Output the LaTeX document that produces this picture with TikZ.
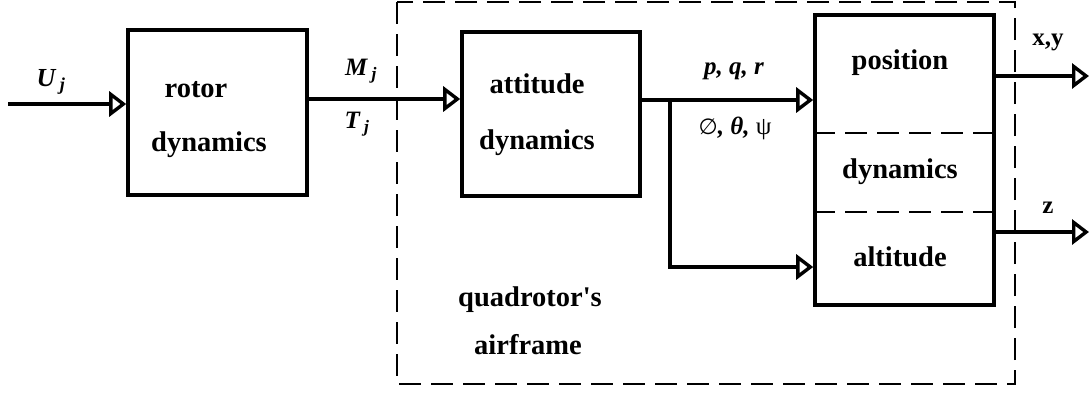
\documentclass[tikz,border=0pt]{standalone}
\usepackage{fontspec}
\setmainfont{Liberation Serif}
\newfontfamily\symf{DejaVu Sans}
\usetikzlibrary{arrows.meta}
\begin{document}
\begin{tikzpicture}[x=1pt,y=-1pt,
  blk/.style={draw, line width=3.6pt, rectangle, inner sep=0pt},
  arr/.style={line width=3.4pt, -{Triangle[open,length=17pt,width=25pt]}},
  frame/.style={line width=2.2pt, dash pattern=on 22pt off 10pt},
  bt/.style={font=\fontsize{28.5}{30}\selectfont\bfseries, inner sep=0pt},
  ml/.style={font=\fontsize{25}{27}\selectfont\bfseries\itshape, inner sep=0pt}]
\useasboundingbox (0,0) rectangle (1091,392);
% frame
\draw[frame] (397,2) rectangle (1015,384);
% blocks
\node[blk, minimum width=179pt, minimum height=165pt] (rotor) at (217.5,112.5) {};
\node[blk, minimum width=178pt, minimum height=164pt] (att) at (551,114) {};
\node[blk, minimum width=179pt, minimum height=290pt] (pos) at (904.5,160) {};
% dividers
\coordinate (d1) at (0,133);
\coordinate (d2) at (0,212);
\draw[frame] (pos.west |- d1) -- (pos.east |- d1);
\draw[frame] (pos.west |- d2) -- (pos.east |- d2);
% block texts
\node[bt] (t1) at (196,90) {rotor};
\node[bt] (t2) at (209,145) {dynamics};
\node[bt] (t3) at (537,84) {attitude};
\node[bt] (t4) at (537,143) {dynamics};
\node[bt] (t5) at (900,63) {position};
\node[bt] (t6) at (900,172) {dynamics};
\node[bt] (t7) at (900,257) {altitude};
\node[bt] (t8) at (530,300) {quadrotor\textquotesingle s};
\node[bt] (t9) at (528,345) {airframe};
% connectors
\coordinate (uin) at (8,104);
\draw[arr] (uin) -- (uin -| rotor.west);
\coordinate (ym) at (0,99);
\draw[arr] (rotor.east |- ym) -- (att.west |- ym);
\coordinate (yp) at (0,100);
\draw[arr] (att.east |- yp) -- (pos.west |- yp);
\coordinate (br) at (670,100);
\coordinate (bc) at (670,267);
\draw[arr] (br) -- (bc) -- (pos.west |- bc);
\coordinate (o1) at (1089,76);
\coordinate (o2) at (1089,232);
\draw[arr] (pos.east |- o1) -- (o1);
\draw[arr] (pos.east |- o2) -- (o2);
% labels
\node[ml, font=\fontsize{26}{28}\selectfont\bfseries\itshape] (lu) at (51,82) {U\,\textsubscript{j}};
\node[ml] (lm) at (361,71) {M\,\textsubscript{j}};
\node[ml] (lt) at (357,124) {T\,\textsubscript{j}};
\node[ml] (lp) at (734,71) {p, q, r};
\node[ml] (la) at (735,128) {{\symf\upshape\mdseries\fontsize{22}{24}\selectfont ∅}, θ, {\upshape\mdseries ψ}};
\node[bt, font=\fontsize{25}{27}\selectfont\bfseries] (lxy) at (1048,42) {x,y};
\node[bt, font=\fontsize{25}{27}\selectfont\bfseries] (lz) at (1048,208) {z};
\end{tikzpicture}
\end{document}
